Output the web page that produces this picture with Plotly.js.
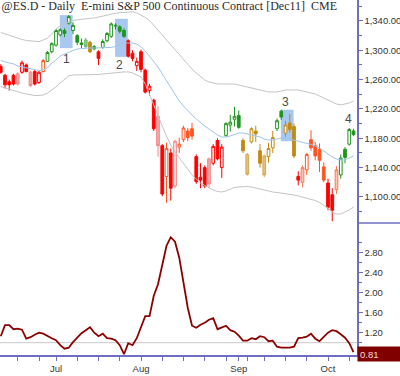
<!DOCTYPE html>
<html><head><meta charset="utf-8">
<script src="https://cdn.plot.ly/plotly-3.0.1.min.js"></script>
<style>html,body{margin:0;padding:0;background:#fff}#chart{width:400px;height:376px}</style>
</head><body><div id="chart"></div>
<script>
const dates = ['2011-06-14','2011-06-15','2011-06-16','2011-06-17',
'2011-06-20','2011-06-21','2011-06-22','2011-06-23','2011-06-24',
'2011-06-27','2011-06-28','2011-06-29','2011-06-30','2011-07-01',
'2011-07-05','2011-07-06','2011-07-07','2011-07-08',
'2011-07-11','2011-07-12','2011-07-13','2011-07-14','2011-07-15',
'2011-07-18','2011-07-19','2011-07-20','2011-07-21','2011-07-22',
'2011-07-25','2011-07-26','2011-07-27','2011-07-28','2011-07-29',
'2011-08-01','2011-08-02','2011-08-03','2011-08-04','2011-08-05',
'2011-08-08','2011-08-09','2011-08-10','2011-08-11','2011-08-12',
'2011-08-15','2011-08-16','2011-08-17','2011-08-18','2011-08-19',
'2011-08-22','2011-08-23','2011-08-24','2011-08-25','2011-08-26',
'2011-08-29','2011-08-30','2011-08-31','2011-09-01','2011-09-02',
'2011-09-06','2011-09-07','2011-09-08','2011-09-09',
'2011-09-12','2011-09-13','2011-09-14','2011-09-15','2011-09-16',
'2011-09-19','2011-09-20','2011-09-21','2011-09-22','2011-09-23',
'2011-09-26','2011-09-27','2011-09-28','2011-09-29','2011-09-30',
'2011-10-03','2011-10-04','2011-10-05','2011-10-06','2011-10-07',
'2011-10-10','2011-10-11'];

const open  = [1278,1266,1257,1266,1268,1270,1280,1270,1271,1256,1271,1285,1298,1307,1321,1327,1337,1327,1320,1310,1314,1311,1302,1298,1304,1313,1319,1333,1332,1327,1313,1296,1279,1298,1273,1245,1232,1210,1170,1128,1160,1115,1168,1178,1190,1193,1155,1127,1140,1152,1146,1177,1140,1184,1198,1206,1211,1177,1158,1175,1190,1163,1156,1155,1167,1193,1217,1187,1201,1196,1128,1120,1137,1178,1170,1165,1141,1119,1103,1110,1130,1165,1172,1190];
const high  = [1281,1268,1260,1268,1270,1286,1282,1272,1273,1272,1288,1299,1311,1329,1330,1330,1348,1338,1322,1316,1317,1313,1307,1300,1315,1325,1338,1337,1334,1330,1315,1300,1290,1301,1275,1254,1234,1224,1172,1174,1166,1178,1181,1197,1194,1201,1158,1146,1143,1154,1172,1180,1172,1202,1212,1223,1218,1180,1160,1195,1197,1172,1158,1174,1190,1207,1219,1204,1213,1200,1135,1143,1160,1191,1175,1173,1147,1125,1112,1142,1158,1168,1194,1193];
const low   = [1268,1248,1245,1252,1252,1268,1270,1250,1252,1254,1270,1284,1296,1305,1319,1318,1335,1322,1307,1303,1303,1296,1300,1280,1302,1311,1317,1328,1323,1317,1290,1285,1272,1270,1241,1238,1190,1155,1101,1092,1095,1112,1160,1175,1176,1178,1118,1112,1112,1112,1143,1150,1126,1182,1189,1196,1193,1160,1129,1173,1175,1140,1127,1147,1160,1190,1205,1182,1188,1153,1116,1113,1130,1163,1150,1134,1120,1082,1067,1104,1125,1146,1170,1183];
const close = [1270,1253,1253,1254,1254,1283,1271,1252,1254,1270,1286,1297,1309,1327,1328,1323,1346,1334,1311,1308,1305,1298,1305,1289,1312,1323,1336,1334,1326,1319,1292,1289,1285,1274,1243,1251,1193,1170,1104,1166,1112,1176,1172,1194,1181,1183,1121,1123,1115,1118,1169,1152,1168,1200,1202,1210,1195,1163,1131,1193,1186,1146,1130,1166,1181,1204,1209,1198,1192,1156,1123,1140,1158,1167,1156,1150,1123,1086,1082,1137,1153,1154,1192,1185];
const barColor = ['red','red','red','red','pink','red','red','pink','red','red','orange','green','green','green','green','green','green','green','green','green','lightgreen','gold','green','red','green','green','green','green','green','green','red','red','red','red','red','red','red','pink','red','orange','red','pink','orange','orange','orange','orange','red','red','red','pink','red','red','red','green','green','green','green','gold','lightgold','gold','gold','gold','lightgold','gold','gold','green','green','gold','gold','gold','red','salmon','orange','orange','orange','orange','orange','red','red','salmon','green','green','green','green'];

const upperBand = [1324.3,1322.3,1320.2,1318.2,1316.1,1314.8,1313.4,1312.7,1312.0,1311.8,1314.1,1316.8,1322.3,1329.1,1333.2,1336.6,1339.3,1340.7,1341.6,1342.3,1343.0,1343.7,1344.1,1345.5,1346.8,1348.2,1349.5,1350.5,1351.2,1351.9,1352.3,1352.5,1350.9,1348.2,1344.8,1340.7,1334.5,1327.7,1320.9,1314.1,1307.3,1301.8,1295.0,1288.2,1281.4,1274.5,1269.1,1263.6,1259.5,1256.8,1255.5,1254.1,1254.1,1254.1,1254.1,1254.1,1252.7,1251.4,1250.0,1248.6,1247.3,1245.9,1244.5,1243.2,1243.2,1243.2,1244.5,1245.9,1245.9,1245.9,1245.9,1244.5,1243.2,1241.8,1240.5,1237.7,1235.0,1232.3,1229.5,1226.8,1225.5,1226.8,1228.2,1230.9];
const midLine = [1286.1,1284.1,1282.7,1281.4,1278.6,1277.3,1275.9,1275.2,1273.9,1272.5,1273.2,1275.9,1282.7,1286.8,1292.3,1295.0,1297.7,1299.8,1301.8,1302.5,1303.2,1303.2,1303.2,1303.2,1303.2,1303.2,1303.9,1305.2,1307.3,1310.0,1310.0,1310.0,1308.6,1304.5,1299.1,1292.3,1284.1,1277.3,1267.7,1258.2,1248.6,1239.1,1230.9,1224.1,1217.3,1211.8,1206.4,1200.9,1196.8,1192.7,1188.6,1184.5,1181.8,1181.8,1183.2,1185.2,1187.3,1187.3,1185.9,1184.5,1183.2,1181.8,1179.1,1177.7,1177.7,1179.1,1180.5,1180.5,1179.1,1177.7,1176.4,1175.0,1173.6,1171.6,1169.5,1166.8,1162.7,1158.6,1154.5,1151.8,1150.5,1150.5,1153.2,1155.9];
const lowerBand = [1250.4,1248.6,1246.6,1244.5,1243.2,1241.8,1240.5,1239.1,1238.4,1238.4,1239.1,1241.8,1245.9,1250.0,1255.5,1260.9,1265.0,1266.4,1266.4,1266.4,1266.4,1266.4,1266.4,1267.0,1267.7,1268.4,1269.1,1269.1,1269.8,1270.5,1270.5,1269.1,1266.4,1263.6,1254.1,1239.1,1225.5,1210.5,1196.8,1183.2,1170.9,1161.4,1153.2,1145.0,1136.8,1130.0,1124.5,1119.1,1115.7,1112.3,1109.5,1107.5,1106.8,1108.2,1110.9,1113.0,1113.6,1114.3,1114.3,1113.6,1112.3,1110.9,1108.9,1107.5,1106.8,1106.1,1105.5,1104.8,1104.1,1102.7,1101.4,1100.0,1098.6,1097.3,1095.2,1092.5,1089.1,1085.0,1079.5,1076.8,1076.8,1079.5,1082.3,1086.4];

const osc = [1.13,1.35,1.35,1.27,1.28,1.26,1.08,1.11,1.16,1.20,1.18,1.13,1.09,1.05,0.95,0.88,0.90,1.01,1.10,1.19,1.25,1.31,1.20,1.13,1.18,1.09,1.08,1.05,0.95,0.77,0.99,0.95,1.09,1.30,1.53,1.53,1.94,2.17,2.56,2.94,3.11,3.02,2.70,2.20,1.70,1.34,1.30,1.36,1.40,1.46,1.49,1.27,1.31,1.34,1.25,1.22,1.14,1.04,1.04,1.09,1.07,1.13,1.11,1.03,1.04,0.92,0.90,0.90,0.90,0.92,1.09,1.10,1.12,1.18,1.08,1.03,1.12,1.20,1.25,1.23,1.17,1.10,0.99,0.81];
const oscLevel = 1.0;

const tickDates = ['2011-06-20','2011-06-27','2011-07-01','2011-07-11','2011-07-18','2011-07-25','2011-08-01','2011-08-08','2011-08-15','2011-08-22','2011-08-29','2011-09-01','2011-09-06','2011-09-12','2011-09-19','2011-09-26','2011-10-03','2011-10-10'];
const tickLabels = ['','','Jul','','','','Aug','','','','','Sep','','','','','Oct',''];

const boxStart = ['2011-07-05','2011-07-22','2011-09-16'];
const boxEnd   = ['2011-07-07','2011-07-26','2011-09-20'];
const boxTop   = [1348,1343,1219];
const boxBottom= [1303,1291,1176];

const markText  = ['1','2','3','4'];
const markPos   = [15.5,27.9,67.0,81.8];
const markPrice = [1288,1280,1230,1206];

const AX = '#6e6ec2';
const palette = {
  red:       {line:'#ff0000', fill:'#ff0000', inc:'#ffffff'},
  pink:      {line:'#f08a8a', fill:'#f5a5a5', inc:'#fde2e2'},
  orange:    {line:'#ff5522', fill:'#ff5522', inc:'#ffffff'},
  salmon:    {line:'#f47c5c', fill:'#f8b49c', inc:'#f9c7b4'},
  green:     {line:'#1e961e', fill:'#1e961e', inc:'#ffffff'},
  lightgreen:{line:'#6dbb6d', fill:'#8fcc8f', inc:'#dff0df'},
  gold:      {line:'#c28a14', fill:'#c28a14', inc:'#ffffff'},
  lightgold: {line:'#d4aa55', fill:'#dfc07e', inc:'#f3e6c8'}
};

const traces = [];
const band = (y, c) => ({type:'scatter', mode:'lines', x:dates, y:y, xaxis:'x', yaxis:'y',
  line:{color:c, width:1}, hoverinfo:'skip', showlegend:false});
traces.push(band(upperBand, '#c4c4c4'));
traces.push(band(lowerBand, '#c4c4c4'));
traces.push(band(midLine, '#9fc4ea'));

Object.keys(palette).forEach(name => {
  const idx = [];
  barColor.forEach((c, i) => { if (c === name) idx.push(i); });
  if (!idx.length) return;
  const p = palette[name];
  traces.push({type:'candlestick', xaxis:'x', yaxis:'y',
    x: idx.map(i => dates[i]), open: idx.map(i => open[i]), high: idx.map(i => high[i]),
    low: idx.map(i => low[i]), close: idx.map(i => close[i]),
    increasing:{line:{color:p.line, width:1}, fillcolor:p.inc},
    decreasing:{line:{color:p.line, width:1}, fillcolor:p.fill},
    whiskerwidth:0, hoverinfo:'skip', showlegend:false});
});

traces.push({type:'scatter', mode:'lines', x:dates, y:osc, xaxis:'x', yaxis:'y2',
  line:{color:'#8b0000', width:1.8}, hoverinfo:'skip', showlegend:false});

const shapes = [];
boxStart.forEach((s, k) => {
  shapes.push({type:'rect', xref:'x', yref:'y', layer:'below',
    x0: dates.indexOf(s) - 0.1, x1: dates.indexOf(boxEnd[k]) + 0.9,
    y0: boxBottom[k], y1: boxTop[k],
    fillcolor:'rgba(105,160,228,0.58)', line:{width:0}});
});
shapes.push({type:'line', xref:'paper', yref:'y2', x0:0, x1:1, y0:oscLevel, y1:oscLevel,
  line:{color:'#c8c8c8', width:1}, layer:'below'});
shapes.push({type:'line', xref:'paper', yref:'paper', x0:1, x1:1.13, y0:0.3718, y1:0.3718,
  line:{color:AX, width:1.5}});

const annotations = markText.map((t, k) => ({xref:'x', yref:'y', x:markPos[k], y:markPrice[k],
  text:t, showarrow:false, font:{family:'Liberation Sans, Arial, sans-serif', size:12, color:'#4a4a4a'}}));
annotations.push({xref:'paper', yref:'y2', x:1, xanchor:'left', y:osc[osc.length-1], yanchor:'middle',
  yshift:-2, text:osc[osc.length-1].toFixed(2), showarrow:false, bgcolor:'#800000', width:39, height:10,
  borderpad:2, align:'left', font:{family:'Liberation Sans, Arial, sans-serif', size:9.5, color:'#f4dede'}});

const axisCommon = {showline:true, linecolor:AX, linewidth:1.5, ticks:'outside', ticklen:4,
  tickcolor:AX, tickwidth:1, showgrid:false, zeroline:false, fixedrange:true,
  tickfont:{family:'Liberation Sans, Arial, sans-serif', size:9.5, color:'#333'}};

const layout = {
  width:400, height:376,
  margin:{l:0, r:43, t:0, b:21, pad:0},
  paper_bgcolor:'#ffffff', plot_bgcolor:'#ffffff',
  showlegend:false,
  boxgap:0.2, boxgroupgap:0.2,
  font:{family:'Liberation Sans, Arial, sans-serif', size:9.5, color:'#333'},
  title:{text:'@ES.D - Daily\u00a0 E-mini S&P 500 Continuous Contract [Dec11]\u00a0 CME',
    xref:'container', yref:'container', x:0.004, xanchor:'left', y:0.997, yanchor:'top',
    pad:{t:0,b:0,l:0,r:0},
    font:{family:'Liberation Serif, Times New Roman, serif', size:12, color:'#2b2b2b'}},
  xaxis: Object.assign({}, axisCommon, {type:'category', categoryorder:'array', categoryarray:dates,
    range:[-0.176, 83.82], anchor:'y2', rangeslider:{visible:false},
    tickmode:'array', tickvals:tickDates, ticktext:tickLabels, tickangle:0}),
  yaxis: Object.assign({}, axisCommon, {domain:[0.3718,1], range:[1064.5,1368.6], side:'right', anchor:'x',
    tickmode:'linear', tick0:1100, dtick:40, tickformat:',.2f',
    minor:{tick0:1100, dtick:20, ticks:'outside', ticklen:3, tickcolor:AX, tickwidth:1}}),
  yaxis2: Object.assign({}, axisCommon, {domain:[0,0.3718], range:[0.754,3.394], side:'right', anchor:'x',
    tickmode:'array', tickvals:[1.2,1.6,2.0,2.4,2.8], tickformat:'.2f',
    minor:{tickmode:'array', tickvals:[1.0,1.4,1.8,2.2,2.6,3.0], ticks:'outside', ticklen:3, tickcolor:AX, tickwidth:1}}),
  shapes:shapes, annotations:annotations
};

Plotly.newPlot('chart', traces, layout, {displayModeBar:false, staticPlot:true});
</script></body></html>
